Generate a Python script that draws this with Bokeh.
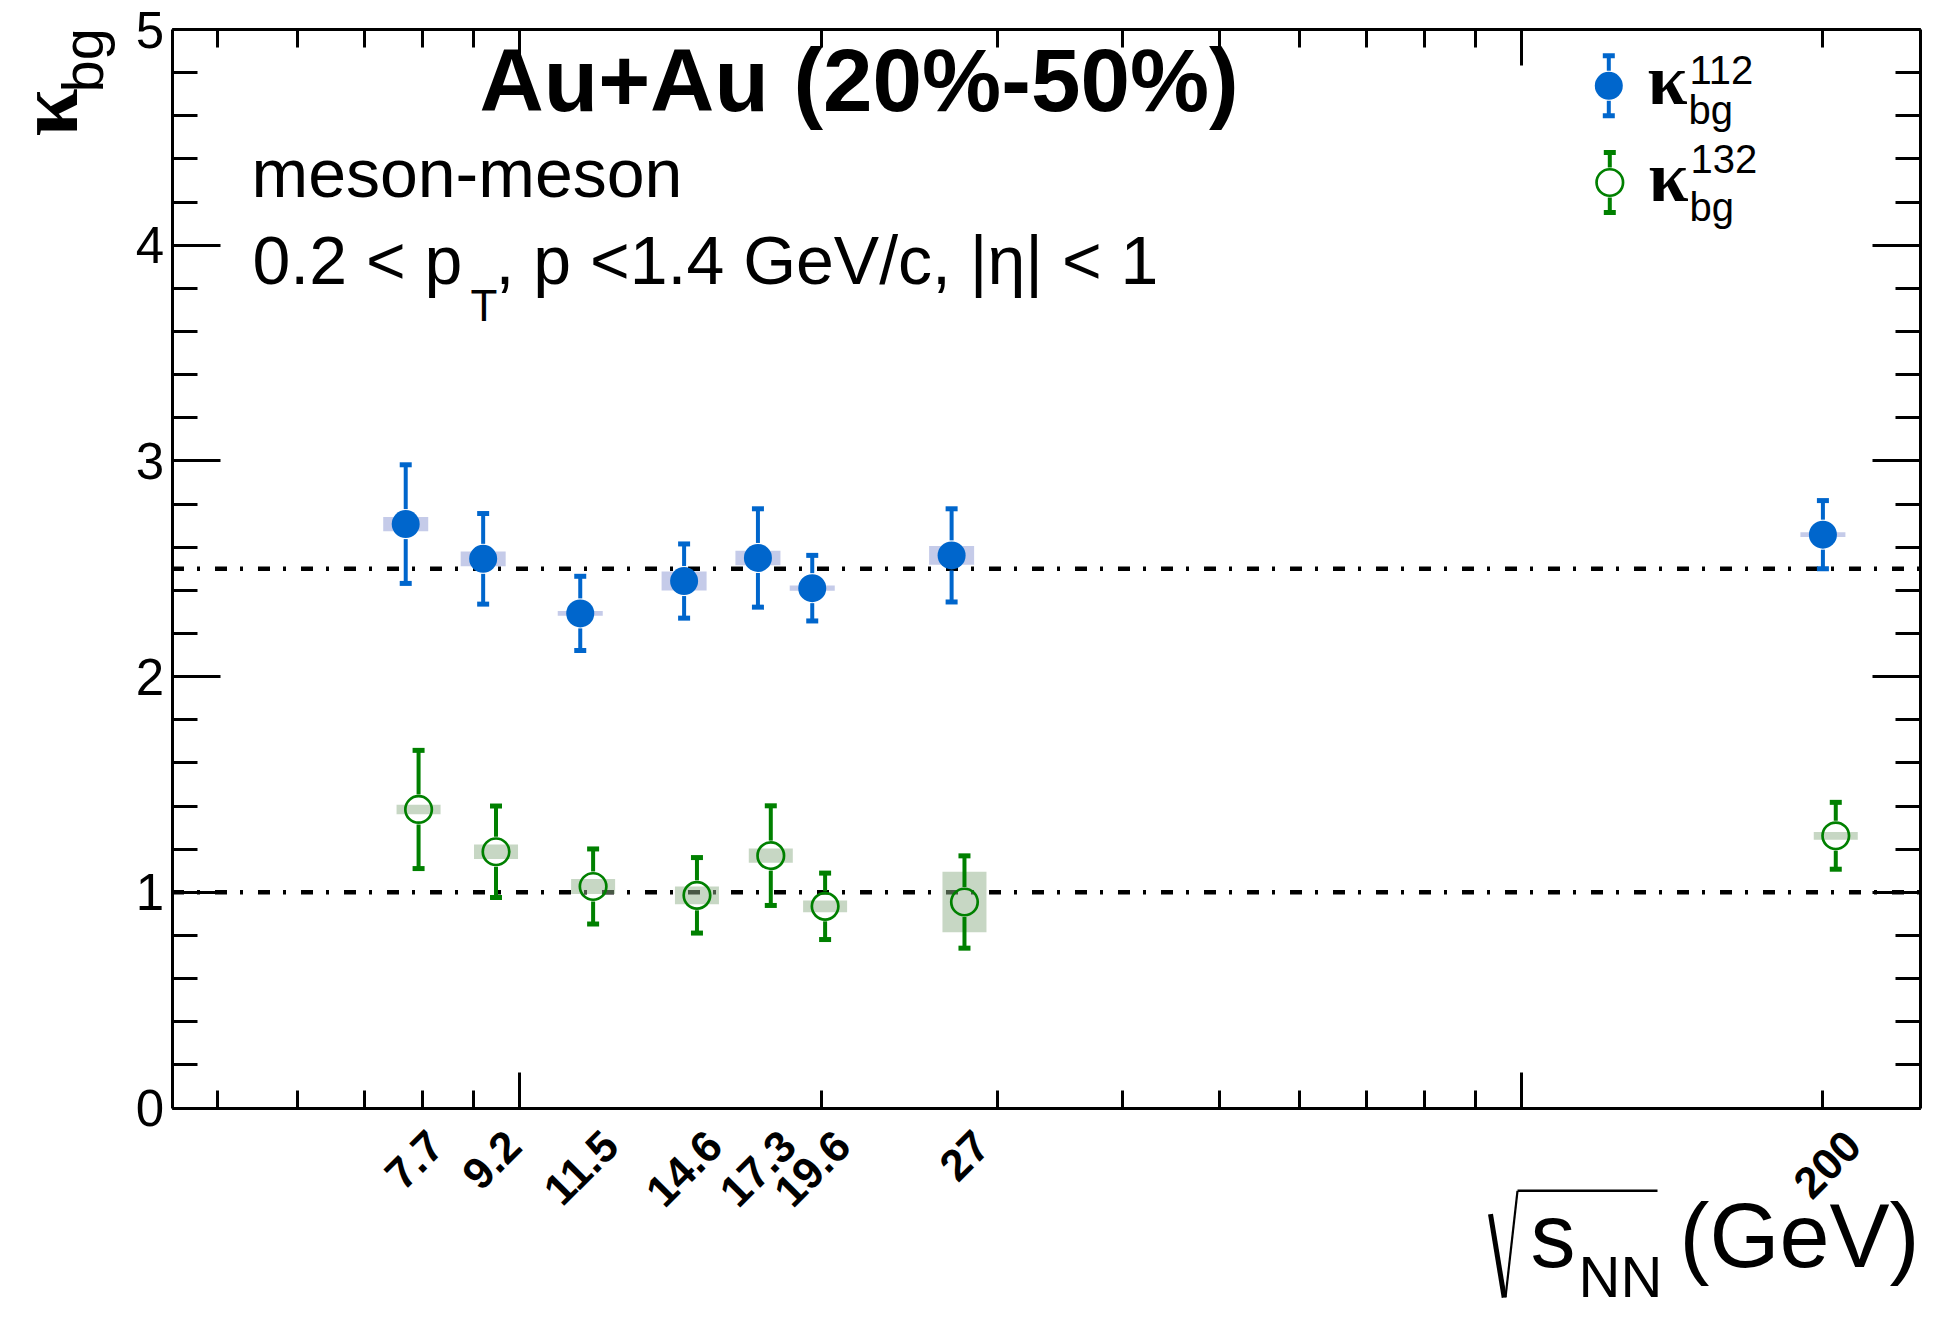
import math
from bokeh.plotting import figure
from bokeh.models import (Range1d, LinearScale, LogAxis, LinearAxis, FixedTicker,
                          Label, LabelSet, ColumnDataSource)
from bokeh.core.properties import value
from bokeh.embed import file_html
from bokeh.resources import INLINE

# ---------------- data ----------------
energies = [7.7, 9.2, 11.5, 14.6, 17.3, 19.6, 27.0, 200.0]
energy_labels = ["7.7", "9.2", "11.5", "14.6", "17.3", "19.6", "27", "200"]

k112 = [2.707, 2.546, 2.293, 2.443, 2.550, 2.410, 2.562, 2.658]
k112_stat = [0.275, 0.210, 0.172, 0.172, 0.228, 0.152, 0.216, 0.158]
k112_sys = [0.033, 0.034, 0.011, 0.044, 0.034, 0.012, 0.044, 0.011]

k132 = [1.384, 1.188, 1.027, 0.986, 1.170, 0.935, 0.955, 1.262]
k132_stat = [0.274, 0.212, 0.174, 0.175, 0.231, 0.154, 0.214, 0.155]
k132_sys = [0.022, 0.034, 0.035, 0.041, 0.033, 0.027, 0.140, 0.018]

reference_levels = [2.5, 1.0]

x_major_ticks = [10, 100]
x_minor_ticks = [5, 6, 7, 8, 9, 20, 30, 40, 50, 60, 70, 80, 90, 200]
y_major_ticks = [0, 1, 2, 3, 4, 5]
y_minor_ticks = [round(0.2 * i, 1) for i in range(26)]

# ---------------- layout / style ----------------
W, H = 1922, 1309
PL, PR, PT, PB = 171.5, 1919.5, 29.0, 1107.5   # plot box edges (canvas px)
XMIN, XMAX = 4.5, 250
YMIN, YMAX = 0, 5
GREEN_SHIFT = 1.03          # horizontal offset of the second series (log factor)
BLUE = "#0066CC"
GREEN = "#008000"
BLUE_SYS = "#8C97D3"
GREEN_SYS = "#8FAF8A"
MARKER = 28
SANS = "Liberation Sans"
SERIF = "Liberation Serif"
MID = {SANS: 0.3465, SERIF: 0.3375}   # baseline -> middle of text box (em)

# the frame spans the whole canvas; the visible box is drawn by fixed axes
lx0, lx1 = math.log10(XMIN), math.log10(XMAX)
dpp = (lx1 - lx0) / (PR - PL)
x_start = 10 ** (lx0 - PL * dpp)
x_end = 10 ** (lx1 + (W - PR) * dpp)
upp = (YMAX - YMIN) / (PB - PT)
y_end = YMAX + PT * upp
y_start = YMIN - (H - PB) * upp
GAP = (MARKER / 2 + 1) * upp   # error bar starts outside the marker

p = figure(width=W, height=H, x_axis_type="log",
           x_range=Range1d(x_start, x_end), y_range=Range1d(y_start, y_end),
           output_backend="svg", toolbar_location=None,
           min_border_left=0, min_border_right=0,
           min_border_top=0, min_border_bottom=0,
           background_fill_color="white", border_fill_color="white")
p.grid.visible = False
p.outline_line_color = None

# canvas-pixel coordinates (y downwards) for annotations
p.extra_x_ranges = {"fx": Range1d(0, W)}
p.extra_y_ranges = {"fy": Range1d(H, 0)}
p.extra_x_scales = {"fx": LinearScale()}
p.extra_y_scales = {"fy": LinearScale()}


def style_axis(ax, major_len, minor_len, ticks, labels=False):
    ax.axis_line_width = 3
    ax.axis_line_color = "black"
    ax.major_tick_line_width = 3
    ax.minor_tick_line_width = 3
    ax.major_tick_line_color = "black"
    ax.minor_tick_line_color = "black"
    ax.major_tick_in = major_len
    ax.major_tick_out = 0
    ax.minor_tick_in = minor_len
    ax.minor_tick_out = 0
    if labels:
        ax.major_label_text_font = SANS
        ax.major_label_text_font_size = "51px"
        ax.major_label_text_color = "black"
        ax.major_label_standoff = 8
    else:
        ax.major_label_overrides = {t: "" for t in ticks}
        ax.major_label_text_font_size = "1px"
        ax.major_label_text_alpha = 0.0
        ax.major_label_standoff = 0


xticker = FixedTicker(ticks=x_major_ticks, minor_ticks=x_minor_ticks)
yticker = FixedTicker(ticks=y_major_ticks, minor_ticks=y_minor_ticks)

bx = p.xaxis[0]
bx.ticker = xticker
bx.fixed_location = YMIN
bx.bounds = (XMIN, XMAX)
style_axis(bx, 36, 18, x_major_ticks)

ly = p.yaxis[0]
ly.ticker = yticker
ly.fixed_location = XMIN
ly.bounds = (YMIN, YMAX)
style_axis(ly, 48, 25, y_major_ticks, labels=True)

top = LogAxis(ticker=xticker, fixed_location=YMAX, bounds=(XMIN, XMAX))
style_axis(top, 36, 18, x_major_ticks)
p.add_layout(top, "above")

right = LinearAxis(ticker=yticker, fixed_location=XMAX, bounds=(YMIN, YMAX))
style_axis(right, 48, 25, y_major_ticks)
p.add_layout(right, "right")

# reference lines (dash-dot)
p.segment(x0=[XMIN] * len(reference_levels), y0=reference_levels,
          x1=[XMAX] * len(reference_levels), y1=reference_levels,
          line_color="black", line_width=4.5, line_dash="12 13 3 15")


def series(xs, ys, stat, sys, color, sys_color, filled, box_w):
    src = ColumnDataSource(dict(
        x=xs, y=ys,
        hi=[y + e for y, e in zip(ys, stat)],
        lo=[y - e for y, e in zip(ys, stat)],
        hi_in=[y + GAP for y in ys],
        lo_in=[y - GAP for y in ys],
        sysh=[2 * s for s in sys],
    ))
    p.rect(x="x", y="y", width=box_w, width_units="screen", height="sysh",
           fill_color=sys_color, fill_alpha=0.5, line_color=None, source=src)
    p.segment(x0="x", y0="hi_in", x1="x", y1="hi", line_color=color, line_width=4, source=src)
    p.segment(x0="x", y0="lo_in", x1="x", y1="lo", line_color=color, line_width=4, source=src)
    for key in ("hi", "lo"):
        p.rect(x="x", y=key, width=12, height=5, width_units="screen",
               height_units="screen", fill_color=color, line_color=None, source=src)
    if filled:
        p.scatter(x="x", y="y", size=MARKER, marker="circle", fill_color=color,
                  line_color=None, source=src)
    else:
        p.scatter(x="x", y="y", size=MARKER - 1.5, marker="circle", fill_color=None,
                  line_color=color, line_width=2.7, source=src)


series(energies, k112, k112_stat, k112_sys, BLUE, BLUE_SYS, True, 45)
series([e * GREEN_SHIFT for e in energies], k132, k132_stat, k132_sys,
       GREEN, GREEN_SYS, False, 44)

# energy labels under the axis
lab_src = ColumnDataSource(dict(x=energies, text=energy_labels))
p.add_layout(LabelSet(x="x", y=YMIN, text="text", source=lab_src,
                      x_offset=30, y_offset=-30, angle=math.pi / 4,
                      text_align="right", text_baseline="middle",
                      text_font=value(SANS), text_font_style="bold",
                      text_font_size="44px", text_color="black"))


def txt(x, y, text, size, font=SANS, style="normal", angle=0.0, align="left"):
    """(x, y): baseline start of the text in canvas pixels (y down)."""
    d = MID[font] * size
    ax_ = x - d * math.sin(angle)
    ay_ = y - d * math.cos(angle)
    p.add_layout(Label(x=ax_, y=ay_, x_range_name="fx", y_range_name="fy", text=text,
                       text_font=font, text_font_size=f"{size}px",
                       text_font_style=style, angle=angle, text_align=align,
                       text_baseline="middle", text_color="black"))


# titles / annotations
txt(479, 110, "Au+Au (20%-50%)", 89, style="bold")
txt(251, 196, "meson-meson", 68)
txt(252, 283.5, "0.2 < p", 68)
txt(470, 320, "T", 44)
txt(495, 283.5, ", p <1.4 GeV/c, |\u03b7| < 1", 68)

# y-axis title (rotated)
txt(77, 136, "\u03ba", 86, font=SERIF, style="bold", angle=math.pi / 2)
txt(102, 92, "bg", 58, angle=math.pi / 2)

# x-axis title (lifted/shifted a little so that it fits the canvas)
XT, XS = -23, -8
txt(1538 + XS, 1290 + XT, "s", 90)
txt(1586 + XS, 1319 + XT, "NN", 58)
txt(1687 + XS, 1290 + XT, "(GeV)", 90)
radical = [
    (1498.0, 1236.7, 1511.7, 1320.0, 5.0),
    (1513.0, 1320.0, 1525.0, 1213.3, 2.2),
    (1525.0, 1213.3, 1665.0, 1213.3, 2.5),
]
for x0, y0, x1, y1, lw in radical:
    p.segment(x0=[x0 + XS], y0=[y0 + XT], x1=[x1 + XS], y1=[y1 + XT], line_color="black",
              line_width=lw, x_range_name="fx", y_range_name="fy")

# legend (manual, canvas pixel positions)
legend = [
    (1608.3, 85.3, BLUE, True, "112", 83.7),
    (1609.3, 182.0, GREEN, False, "132", 172.0),
]
for lx, lyy, col, filled, sup, sup_y in legend:
    p.segment(x0=[lx, lx], y0=[lyy - 15, lyy + 15], x1=[lx, lx], y1=[lyy - 30, lyy + 30],
              line_color=col, line_width=4, x_range_name="fx", y_range_name="fy")
    p.rect(x=[lx, lx], y=[lyy - 30, lyy + 30], width=12, height=5, width_units="screen",
           height_units="screen", fill_color=col, line_color=None,
           x_range_name="fx", y_range_name="fy")
    if filled:
        p.scatter(x=[lx], y=[lyy], size=MARKER, marker="circle", fill_color=col,
                  line_color=None, x_range_name="fx", y_range_name="fy")
    else:
        p.scatter(x=[lx], y=[lyy], size=MARKER - 1.5, marker="circle", fill_color=None,
                  line_color=col, line_width=2.7, x_range_name="fx", y_range_name="fy")
    txt(lx + 38.7, lyy + 18.4, "\u03ba", 72, font=SERIF, style="bold")
    txt(lx + 80.7, sup_y, sup, 40)
    txt(lx + 79.7, lyy + 38.4, "bg", 40)

open("out.html", "w").write(file_html(p, INLINE))
